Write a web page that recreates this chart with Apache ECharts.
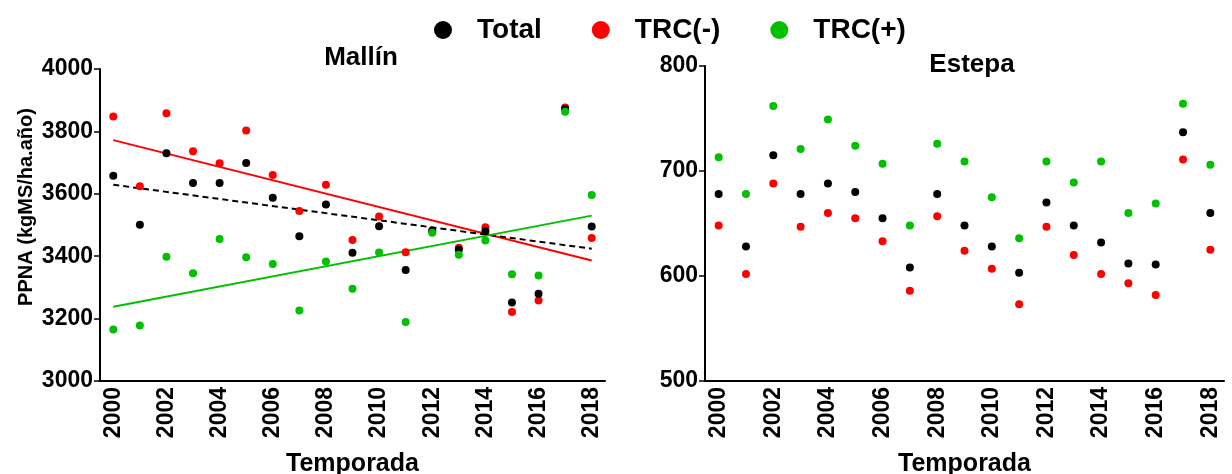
<!DOCTYPE html>
<html>
<head>
<meta charset="utf-8">
<script src="https://cdn.jsdelivr.net/npm/echarts@6/dist/echarts.min.js"></script>
<style>html,body{margin:0;padding:0;background:#fff}#c{width:1232px;height:474px}</style>
</head>
<body>
<div id="c"></div>
<script>
var years = ['2000','2001','2002','2003','2004','2005','2006','2007','2008','2009','2010','2011','2012','2013','2014','2015','2016','2017','2018'];

// Mallín
var mallinTotal = [3658,3501,3730,3635,3635,3699,3587,3464,3566,3411,3496,3356,3482,3421,3480,3252,3280,3872,3495];
var mallinNeg   = [3848,3624,3858,3736,3698,3803,3660,3545,3629,3452,3527,3413,3480,3427,3493,3221,3258,3877,3458];
var mallinPos   = [3165,3178,3398,3345,3455,3397,3375,3226,3383,3296,3412,3189,3475,3405,3450,3342,3338,3863,3596];
// trend lines (endpoints: 2000, 2018)
var trendTotal = [3629,3424];
var trendNeg   = [3772,3386];
var trendPos   = [3238,3530];

// Estepa
var estepaTotal = [678,628,715,678,688,680,655,608,678,648,628,603,670,648,632,612,611,737,660];
var estepaNeg   = [648,602,688,647,660,655,633,586,657,624,607,573,647,620,602,593,582,711,625];
var estepaPos   = [713,678,762,721,749,724,707,648,726,709,675,636,709,689,709,660,669,764,706];

var leftTicks = [3000,3200,3400,3600,3800,4000];
var rightTicks = [500,600,700,800];

var BLACK = '#000000', RED = '#ff0000', GREEN = '#00c000';
var FONT = 'Liberation Sans, Arial, sans-serif';

function pairs(vals){ return years.map(function(y,i){ return [y, vals[i]]; }); }
function trend(v){ return [[years[0], v[0]], [years[years.length-1], v[1]]]; }

function xAxis(gi){
  return {
    type:'category', gridIndex:gi, data:years, boundaryGap:true,
    name:'Temporada', nameLocation:'middle', nameGap:71,
    nameTextStyle:{fontFamily:FONT, fontWeight:'bold', fontSize:25, color:'#000'},
    axisLine:{lineStyle:{color:'#000', width:2}},
    axisTick:{alignWithLabel:true, interval:0, length:5, lineStyle:{color:'#000', width:1.5}},
    axisLabel:{interval:1, rotate:90, margin:6, fontFamily:FONT, fontWeight:'bold', fontSize:23, color:'#000'},
    splitLine:{show:false}
  };
}
function yAxis(gi, min, max, interval){
  return {
    type:'value', gridIndex:gi, min:min, max:max, interval:interval,
    axisLine:{show:true, lineStyle:{color:'#000', width:2}},
    axisTick:{show:true, length:6, lineStyle:{color:'#000', width:1.5}},
    axisLabel:{margin:7, fontFamily:FONT, fontWeight:'bold', fontSize:23, color:'#000',
      formatter:function(v){ return String(v); }},
    splitLine:{show:false}
  };
}
function scatter(name, gi, vals, color, z){
  return {type:'scatter', name:name, xAxisIndex:gi, yAxisIndex:gi, data:pairs(vals), symbolSize:8,
    itemStyle:{color:color, opacity:1}, z:z, silent:true};
}
function line(gi, v, color, dashed){
  return {type:'line', xAxisIndex:gi, yAxisIndex:gi, data:trend(v), symbol:'none', z:1, silent:true,
    lineStyle:{color:color, width:2, type: dashed ? [6,4] : 'solid'}};
}

var chart = echarts.init(document.getElementById('c'), null, {renderer:'canvas'});
chart.setOption({
  animation:false,
  backgroundColor:'#fff',
  title:[
    {text:'Mallín', left:356, top:40, textAlign:'center', textStyle:{fontFamily:FONT, fontWeight:'bold', fontSize:26, color:'#000'}},
    {text:'Estepa', left:967, top:47, textAlign:'center', textStyle:{fontFamily:FONT, fontWeight:'bold', fontSize:26, color:'#000'}}
  ],
  legend:{
    data:['Total','TRC(-)','TRC(+)'], left:429, top:11, icon:'circle',
    itemWidth:58, itemHeight:18, itemGap:50,
    textStyle:{fontFamily:FONT, fontWeight:'bold', fontSize:28, color:'#000'}
  },
  grid:[
    {left:100, top:69, width:505, height:312, containLabel:false, outerBoundsMode:'none'},
    {left:705, top:66, width:519, height:315, containLabel:false, outerBoundsMode:'none'}
  ],
  xAxis:[xAxis(0), xAxis(1)],
  yAxis:[yAxis(0, leftTicks[0], leftTicks[leftTicks.length-1], 200), yAxis(1, rightTicks[0], rightTicks[rightTicks.length-1], 100)],
  graphic:[
    {type:'text', x:26, y:207, rotation:Math.PI/2,
      style:{text:'PPNA (kgMS/ha.año)', fontFamily:FONT, fontWeight:'bold', fontSize:20, fill:'#000', textAlign:'center', textVerticalAlign:'middle'}}
  ],
  series:[
    scatter('TRC(-)', 0, mallinNeg, RED, 2),
    scatter('Total', 0, mallinTotal, BLACK, 3),
    scatter('TRC(+)', 0, mallinPos, GREEN, 4),
    line(0, trendNeg, RED, false),
    line(0, trendTotal, BLACK, true),
    line(0, trendPos, GREEN, false),
    scatter('TRC(-)', 1, estepaNeg, RED, 2),
    scatter('Total', 1, estepaTotal, BLACK, 3),
    scatter('TRC(+)', 1, estepaPos, GREEN, 4)
  ]
});
</script>
</body>
</html>
